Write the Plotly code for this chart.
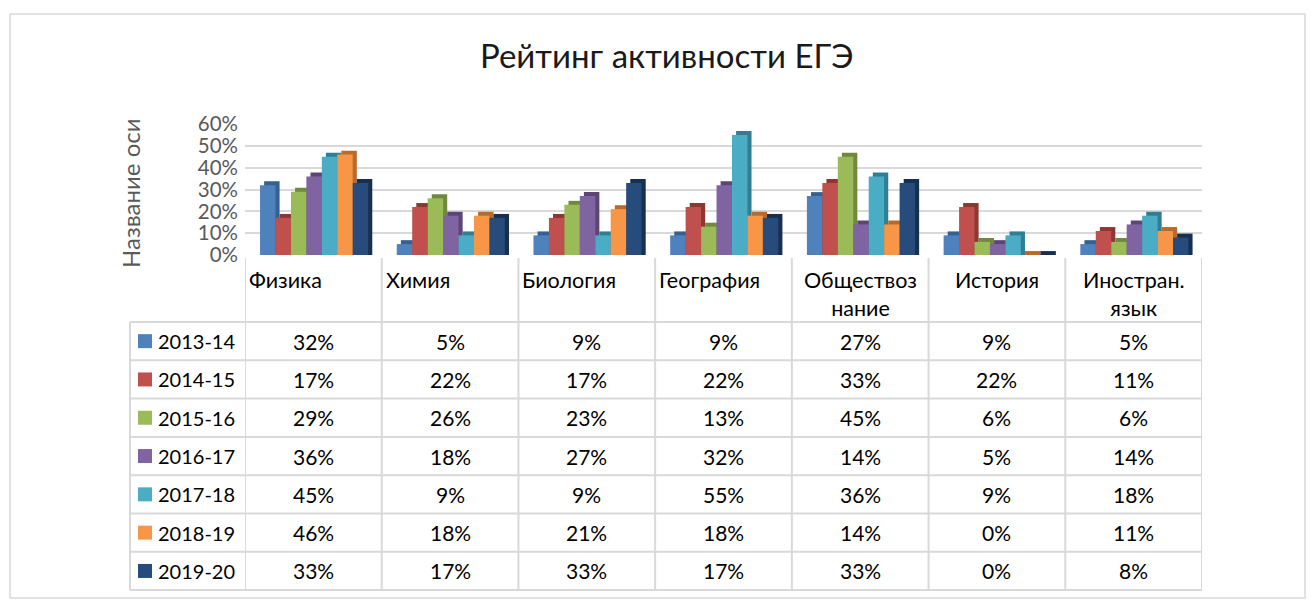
import plotly.graph_objects as go

categories = ["Физика", "Химия", "Биология", "География", "Обществоз<br>нание", "История", "Иностран.<br>язык"]
series_names = ["2013-14", "2014-15", "2015-16", "2016-17", "2017-18", "2018-19", "2019-20"]
values = [
    [32, 5, 9, 9, 27, 9, 5],
    [17, 22, 17, 22, 33, 22, 11],
    [29, 26, 23, 13, 45, 6, 6],
    [36, 18, 27, 32, 14, 5, 14],
    [45, 9, 9, 55, 36, 9, 18],
    [46, 18, 21, 18, 14, 0, 11],
    [33, 17, 33, 17, 33, 0, 8],
]
colors = ["#4F81BD", "#C0504D", "#9BBB59", "#8064A2", "#4BACC6", "#F79646", "#274B7A"]
side_colors = ["#36608F", "#8F3532", "#71893E", "#5C4677", "#317E93", "#B86A2C", "#18304F"]
title_text = "Рейтинг активности ЕГЭ"
y_title = "Название оси"
y_ticks = [0, 10, 20, 30, 40, 50, 60]

# style: header label alignment per column (as in the reference)
label_left = [True, True, True, True, False, False, False]

W, H = 1312, 602
FONT = "Lato, Carlito, Calibri, sans-serif"

def px_x(p):
    return p / W

def px_y(p):
    return 1 - p / H

x_left, x_right = 245, 1202
y_zero, y_top = 255, 124

fig = go.Figure()

n_cat = len(categories)
xs = list(range(n_cat))
bw = 0.113
start = -0.39
dx = 0.03
dy = 1.8

# depth (side/top faces) first
for i, name in enumerate(series_names):
    fig.add_trace(go.Bar(
        x=xs, y=[v + dy for v in values[i]], base=[0] * n_cat,
        offset=start + i * bw + dx, width=bw,
        marker=dict(color=side_colors[i], line=dict(width=0)),
        showlegend=False, hoverinfo="skip",
    ))
for i, name in enumerate(series_names):
    fig.add_trace(go.Bar(
        x=xs, y=values[i], name=name,
        offset=start + i * bw, width=bw,
        marker=dict(color=colors[i], line=dict(width=0)),
        showlegend=False,
    ))

annotations = []
shapes = []

# Title
annotations.append(dict(text=title_text, x=px_x(667), y=px_y(55), xref="paper", yref="paper",
                        xanchor="center", yanchor="middle",
                        showarrow=False, font=dict(family=FONT, size=33, color="#1a1a1a")))
# Y title
annotations.append(dict(text=y_title, x=px_x(131), y=px_y(193), xref="paper", yref="paper",
                        xanchor="center", yanchor="middle",
                        showarrow=False, textangle=-90, font=dict(family=FONT, size=24, color="#595959")))

# Category header labels
for i, c in enumerate(categories):
    if label_left[i]:
        annotations.append(dict(text=c, x=i - 0.5 + 0.015, y=px_y(265), xref="x", yref="paper",
                                xanchor="left", yanchor="top", showarrow=False, align="left",
                                font=dict(family=FONT, size=21.5, color="#000000")))
    else:
        annotations.append(dict(text=c, x=i, y=px_y(265), xref="x", yref="paper",
                                xanchor="center", yanchor="top", showarrow=False, align="center",
                                font=dict(family=FONT, size=21.5, color="#000000")))

# table rows
row_top = 322
row_h = 38.3
for r, name in enumerate(series_names):
    cy = row_top + row_h * (r + 0.5)
    # legend square
    shapes.append(dict(type="rect", xref="paper", yref="paper",
                       x0=px_x(138), x1=px_x(152), y0=px_y(cy - 7), y1=px_y(cy + 7),
                       fillcolor=colors[r], line=dict(width=0)))
    annotations.append(dict(text=name, x=px_x(156), y=px_y(cy), xref="paper", yref="paper",
                            xanchor="left", yanchor="middle", showarrow=False,
                            font=dict(family=FONT, size=20, color="#000000")))
    for j in range(n_cat):
        annotations.append(dict(text=f"{values[r][j]}%", x=j, y=px_y(cy), xref="x", yref="paper",
                                xanchor="center", yanchor="middle",
                                showarrow=False, font=dict(family=FONT, size=21, color="#000000")))

line_c = "#D9D9D9"
# horizontal table lines
for r in range(len(series_names) + 1):
    yy = row_top + row_h * r
    shapes.append(dict(type="line", xref="paper", yref="paper", x0=px_x(130), x1=px_x(x_right),
                       y0=px_y(yy), y1=px_y(yy), line=dict(color=line_c, width=2)))
# vertical lines
for j in range(n_cat + 1):
    shapes.append(dict(type="line", xref="x", yref="paper", x0=j - 0.5, x1=j - 0.5,
                       y0=px_y(258), y1=px_y(row_top + row_h * 7), line=dict(color=line_c, width=2)))
shapes.append(dict(type="line", xref="paper", yref="paper", x0=px_x(130), x1=px_x(130),
                   y0=px_y(row_top), y1=px_y(row_top + row_h * 7), line=dict(color=line_c, width=2)))
# chart frame
shapes.append(dict(type="rect", xref="paper", yref="paper", x0=px_x(10), x1=px_x(1305),
                   y0=px_y(598), y1=px_y(14), line=dict(color="#D9D9D9", width=1.5),
                   fillcolor="rgba(0,0,0,0)", layer="below"))

fig.update_layout(
    width=W, height=H,
    margin=dict(l=0, r=0, t=0, b=0),
    paper_bgcolor="white", plot_bgcolor="white",
    barmode="overlay",
    showlegend=False,
    xaxis=dict(domain=[px_x(x_left), px_x(x_right)], range=[-0.5, n_cat - 0.5],
               showticklabels=False, showgrid=False, zeroline=False, showline=False,
               fixedrange=True),
    yaxis=dict(domain=[px_y(y_zero), px_y(y_top)], range=[0, 60],
               tickvals=y_ticks, ticktext=[f"{t}%" for t in y_ticks],
               tickfont=dict(family=FONT, size=20.5, color="#595959"),
               showgrid=True, gridcolor="#D9D9D9", gridwidth=1.5, zeroline=False,
               showline=False, ticks="", automargin=False, ticklabelstandoff=6),
    annotations=annotations,
    shapes=shapes,
)

fig.write_html("out.html", config={"displayModeBar": False},
               post_script="document.body.style.margin='0';")
